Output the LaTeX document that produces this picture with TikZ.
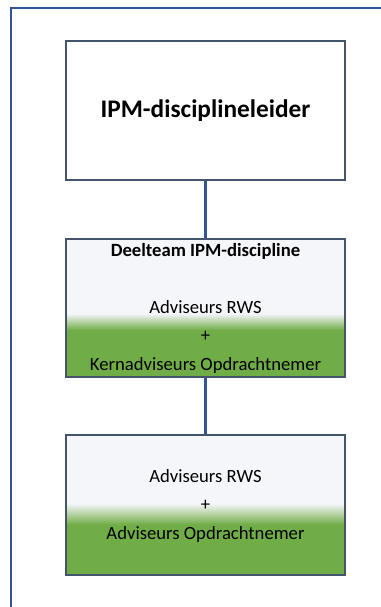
\documentclass[tikz,border=0pt]{standalone}
\usepackage{fontspec}
\setmainfont{Carlito}
\definecolor{kader}{HTML}{2F5597}
\definecolor{rand}{HTML}{44546A}
\definecolor{groen}{HTML}{70AD47}
\definecolor{lichtgrijs}{HTML}{F5F6FA}
\pgfdeclareverticalshading{grasA}{100bp}{color(0bp)=(groen); color(42bp)=(groen); color(48bp)=(lichtgrijs); color(100bp)=(lichtgrijs)}
\pgfdeclareverticalshading{grasB}{100bp}{color(0bp)=(groen); color(43bp)=(groen); color(50.5bp)=(lichtgrijs); color(100bp)=(lichtgrijs)}
\begin{document}
\begin{tikzpicture}[x=0.75pt, y=-0.75pt,
  blok/.style={draw=rand, line width=1.4pt, minimum width=209pt, minimum height=#1, inner sep=0pt},
  regel/.style={anchor=base, font=\fontsize{14}{17}\selectfont},
  lijn/.style={kader, line width=1.6pt}]
  \useasboundingbox (0,0) rectangle (380,607);
  \draw[kader, line width=1.8pt] (400,8) -| (11,640);
  \node[blok=104pt, fill=white, font=\fontsize{19}{23}\bfseries] (leider) at (205.5,110.5) {IPM-disciplineleider};
  \node[blok=103.5pt, shading=grasA] (team) at (205.5,308) {};
  \node[blok=105pt, shading=grasB] (adviseurs) at (205.5,505) {};
  \draw[lijn] (leider.south) -- (team.north);
  \draw[lijn] (team.south) -- (adviseurs.north);
  \node[regel, font=\fontsize{14}{17}\bfseries] (titel) at (205.5,256) {Deelteam IPM-discipline};
  \node[regel] (rwsA) at (205.5,313) {Adviseurs RWS};
  \node[regel] (plusA) at (205.5,341.5) {+};
  \node[regel] (onA) at (205.5,370) {Kernadviseurs Opdrachtnemer};
  \node[regel] (rwsB) at (205.5,482) {Adviseurs RWS};
  \node[regel] (plusB) at (205.5,510.5) {+};
  \node[regel] (onB) at (205.5,539) {Adviseurs Opdrachtnemer};
\end{tikzpicture}
\end{document}
